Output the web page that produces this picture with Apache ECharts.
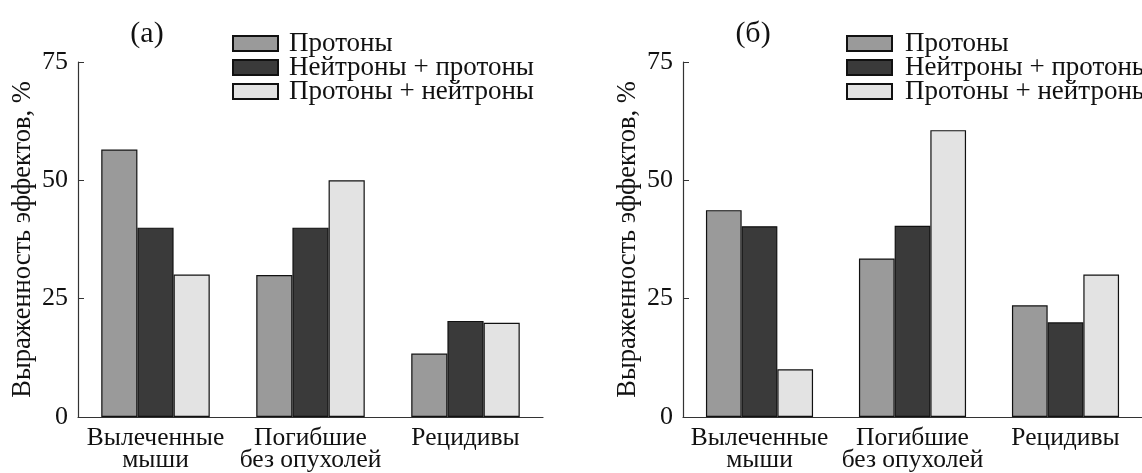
<!DOCTYPE html>
<html><head><meta charset="utf-8">
<script src="https://cdn.jsdelivr.net/npm/echarts@6/dist/echarts.min.js"></script>
<style>html,body{margin:0;padding:0;background:#fff;}#c{width:1142px;height:473px;}</style>
</head><body><div id="c"></div>
<script>
const categories = ['Вылеченные\nмыши', 'Погибшие\nбез опухолей', 'Рецидивы'];
const seriesNames = ['Протоны', 'Нейтроны + протоны', 'Протоны + нейтроны'];
const panelTitles = ['(a)', '(б)'];
const yTicks = [0, 25, 50, 75];
const yName = 'Выраженность эффектов, %';
// panel (a)
const a_protons = [56.5, 30.0, 13.4];
const a_neutronsProtons = [40.0, 40.0, 20.3];
const a_protonsNeutrons = [30.1, 50.0, 19.9];
// panel (б)
const b_protons = [43.7, 33.5, 23.6];
const b_neutronsProtons = [40.3, 40.4, 20.0];
const b_protonsNeutrons = [10.1, 60.6, 30.1];

const FONT = 'Liberation Serif';
const colors = ['#9a9a9a', '#3a3a3a', '#e3e3e3'];
const panelData = [[a_protons, a_neutronsProtons, a_protonsNeutrons], [b_protons, b_neutronsProtons, b_protonsNeutrons]];
const grids = [
  {left: 78, top: 62, width: 465, height: 357},
  {left: 683, top: 62, width: 466, height: 357}
];
const titleX = [147, 753];
const legendX = [232, 846];
const legendTextPad = [6, 8];

const chart = echarts.init(document.getElementById('c'), null, {renderer: 'canvas'});
const option = {
  backgroundColor: '#fff',
  animation: false,
  title: panelTitles.map((t, i) => ({
    text: t, left: titleX[i], top: 19, textAlign: 'center', padding: 0,
    textStyle: {fontFamily: FONT, fontSize: 30, fontWeight: 'normal', color: '#111'}
  })),
  legend: [0, 1].map(i => ({
    orient: 'vertical', left: legendX[i], top: 30, padding: 0,
    itemWidth: 45, itemHeight: 15, itemGap: -3,
    icon: 'rect',
    data: seriesNames,
    selectedMode: false,
    textStyle: {fontFamily: FONT, fontSize: 27, color: '#111', padding: [0, 0, 0, legendTextPad[i]]}
  })),
  grid: grids,
  xAxis: [0, 1].map(i => ({
    type: 'category', gridIndex: i, data: categories,
    axisLine: {lineStyle: {color: '#333', width: 1.2}},
    axisTick: {inside: true, length: 5, lineStyle: {color: '#333', width: 1}},
    axisLabel: {fontFamily: FONT, fontSize: 25.5, color: '#111', margin: 10, lineHeight: 22, interval: 0}
  })),
  yAxis: [0, 1].map(i => ({
    type: 'value', gridIndex: i, min: yTicks[0], max: yTicks[yTicks.length - 1], interval: 25,
    name: yName, nameLocation: 'middle', nameRotate: 90, nameGap: 41,
    nameTextStyle: {fontFamily: FONT, fontSize: 26.5, color: '#111'},
    axisLine: {show: true, lineStyle: {color: '#333', width: 1.2}},
    axisTick: {show: true, inside: true, length: 6, lineStyle: {color: '#333', width: 1}},
    splitLine: {show: false},
    axisLabel: {fontFamily: FONT, fontSize: 26, color: '#111', margin: 10}
  })),
  series: []
};
for (let p = 0; p < 2; p++) {
  for (let s = 0; s < 3; s++) {
    option.series.push({
      type: 'bar', name: seriesNames[s], xAxisIndex: p, yAxisIndex: p,
      data: panelData[p][s],
      barGap: '0%', barCategoryGap: '30%',
      itemStyle: {color: colors[s], borderColor: '#111', borderWidth: 1.2}
    });
  }
}
chart.setOption(option);
</script></body></html>
